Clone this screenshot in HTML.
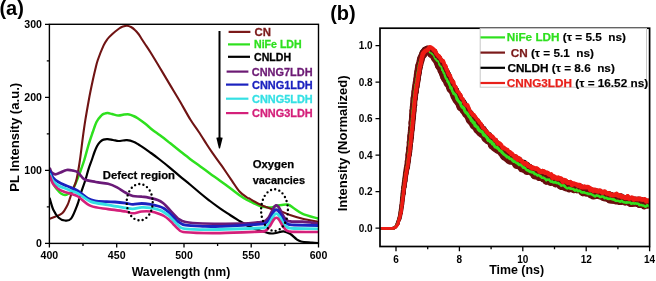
<!DOCTYPE html>
<html><head><meta charset="utf-8"><style>
html,body{margin:0;padding:0;background:#fff;width:656px;height:281px;overflow:hidden}
svg{display:block;will-change:transform}
text{font-family:"Liberation Sans",sans-serif;font-weight:bold}
.tk{font-size:10.6px}
.tkb{font-size:10px}
</style></head><body>
<svg width="656" height="281" viewBox="0 0 656 281">
<defs><clipPath id="ca"><rect x="49.4" y="24.3" width="269.1" height="219.1"/></clipPath><clipPath id="cb"><rect x="380" y="28.2" width="269.6" height="218.3"/></clipPath></defs>
<g clip-path="url(#ca)" fill="none" stroke-linejoin="round" stroke-linecap="round">
<path d="M49.7,176.0 C50.4,177.5 52.6,182.6 54.0,185.0 C55.4,187.4 56.8,189.1 58.0,190.5 C59.2,191.9 59.8,192.8 61.0,193.5 C62.2,194.2 63.8,194.9 65.0,195.0 C66.2,195.1 66.9,194.6 68.0,194.0 C69.1,193.4 70.5,192.7 71.5,191.5 C72.5,190.3 73.1,188.9 74.0,187.0 C74.9,185.1 75.9,182.7 77.0,180.0 C78.1,177.3 79.3,174.3 80.5,171.0 C81.7,167.7 83.0,164.3 84.3,160.0 C85.6,155.7 87.1,149.7 88.5,145.0 C89.9,140.3 91.5,135.8 92.8,132.0 C94.1,128.2 95.1,124.8 96.5,122.0 C97.9,119.2 100.1,116.9 101.4,115.5 C102.7,114.1 103.4,114.0 104.5,113.6 C105.6,113.2 106.5,113.0 107.8,113.1 C109.0,113.2 110.2,113.6 112.0,114.0 C113.8,114.4 116.5,115.5 118.5,115.6 C120.5,115.7 122.2,114.8 124.0,114.6 C125.8,114.4 127.5,114.2 129.1,114.4 C130.7,114.6 132.1,115.4 133.5,116.0 C134.9,116.6 135.8,117.0 137.7,118.2 C139.6,119.5 142.5,121.5 145.0,123.5 C147.5,125.5 150.1,127.9 152.6,129.9 C155.1,131.9 157.1,133.1 160.0,135.3 C162.9,137.5 166.7,140.5 170.0,143.1 C173.3,145.7 176.6,148.4 179.9,151.0 C183.2,153.6 186.7,156.4 190.0,158.9 C193.3,161.4 196.7,163.8 200.0,166.2 C203.3,168.6 206.6,171.1 209.9,173.5 C213.2,175.9 216.3,178.0 220.0,180.7 C223.7,183.4 228.8,187.2 232.0,189.6 C235.2,192.0 237.0,193.5 239.5,195.2 C242.0,196.9 245.2,199.0 247.0,200.0 C248.8,201.0 248.8,200.7 250.0,201.3 C251.2,201.9 252.6,202.7 254.4,203.5 C256.2,204.3 258.8,205.7 260.7,206.3 C262.6,206.9 264.2,207.0 266.0,207.2 C267.8,207.4 269.0,207.7 271.2,207.4 C273.4,207.1 276.4,205.8 279.2,205.3 C282.0,204.8 285.3,204.1 287.8,204.6 C290.3,205.1 291.7,207.0 294.2,208.5 C296.7,210.0 298.7,212.1 302.7,213.8 C306.7,215.5 315.4,217.7 318.0,218.5" stroke="#2ee01e" stroke-width="2.5"/>
<path d="M49.7,218.7 C50.6,218.4 53.0,217.7 55.1,216.8 C57.2,215.9 60.1,215.3 62.2,213.3 C64.3,211.3 66.2,207.6 67.5,205.0 C68.8,202.4 69.2,200.3 70.1,197.8 C71.0,195.3 71.8,192.8 72.8,189.8 C73.8,186.8 75.2,184.8 76.4,180.0 C77.6,175.2 78.8,167.7 79.8,161.0 C80.8,154.3 81.6,146.9 82.5,140.0 C83.4,133.1 84.3,126.5 85.4,119.7 C86.5,112.9 87.8,105.7 89.0,99.0 C90.2,92.3 91.8,84.9 92.9,79.8 C94.0,74.7 94.7,71.8 95.5,68.5 C96.3,65.2 96.5,63.8 97.8,60.0 C99.1,56.2 101.9,49.1 103.5,45.6 C105.1,42.1 106.1,40.9 107.5,39.0 C108.9,37.1 110.1,36.0 112.1,34.2 C114.0,32.5 117.4,29.8 119.2,28.5 C121.0,27.2 121.7,27.1 123.0,26.6 C124.3,26.1 125.7,25.6 127.0,25.7 C128.3,25.8 129.7,26.3 131.0,27.0 C132.3,27.7 133.7,28.8 134.9,30.0 C136.2,31.2 137.4,32.6 138.5,34.0 C139.6,35.4 140.3,36.8 141.4,38.5 C142.5,40.2 143.5,41.7 145.0,44.0 C146.5,46.3 148.1,48.5 150.6,52.5 C153.1,56.5 156.9,62.8 160.0,68.0 C163.1,73.2 166.0,78.0 169.3,83.6 C172.6,89.2 176.5,95.5 180.0,101.5 C183.5,107.5 187.4,114.8 190.5,119.8 C193.6,124.8 195.8,127.5 198.5,131.5 C201.2,135.5 204.2,140.4 206.5,144.0 C208.8,147.6 210.0,149.4 212.6,153.1 C215.2,156.8 218.8,161.6 222.0,166.2 C225.2,170.8 229.1,176.6 232.0,180.8 C234.9,185.0 237.0,188.7 239.5,191.5 C242.0,194.3 245.2,196.3 247.0,197.5 C248.8,198.7 248.8,198.1 250.0,198.8 C251.2,199.5 252.6,200.5 254.4,201.5 C256.2,202.5 258.8,203.9 260.7,204.8 C262.6,205.7 264.2,206.3 266.0,207.0 C267.8,207.7 269.1,208.2 271.4,208.9 C273.7,209.6 276.9,210.0 280.0,211.0 C283.1,212.0 286.2,213.7 290.0,215.0 C293.8,216.3 297.7,217.6 302.7,218.8 C307.7,220.0 317.1,221.6 320.0,222.2" stroke="#701414" stroke-width="2.1"/>
<path d="M49.7,198.4 C50.3,200.3 51.8,206.5 53.3,209.7 C54.8,212.9 56.8,215.9 58.7,217.7 C60.6,219.5 62.8,220.3 64.9,220.5 C67.0,220.7 69.0,221.2 71.1,218.6 C73.2,216.0 75.7,209.2 77.3,205.0 C78.9,200.8 79.4,197.6 80.8,193.4 C82.2,189.2 84.1,184.1 85.4,180.0 C86.7,175.9 87.5,172.1 88.6,168.8 C89.7,165.5 90.8,162.8 91.8,160.0 C92.8,157.2 93.6,154.3 94.5,152.0 C95.4,149.7 96.2,147.7 97.1,146.0 C98.0,144.3 98.9,143.1 100.0,142.0 C101.1,140.9 102.2,140.1 103.5,139.6 C104.8,139.1 106.2,139.0 107.8,139.1 C109.4,139.2 111.2,139.7 113.0,140.0 C114.8,140.3 116.8,140.9 118.5,141.0 C120.2,141.1 121.6,140.6 123.0,140.5 C124.4,140.4 125.3,140.0 127.0,140.2 C128.7,140.4 131.5,141.0 133.4,141.7 C135.3,142.4 136.7,143.4 138.5,144.5 C140.3,145.6 142.0,146.7 144.1,148.1 C146.2,149.5 148.5,151.2 151.0,153.0 C153.5,154.8 155.8,156.5 159.0,159.0 C162.2,161.5 166.5,164.9 170.0,167.8 C173.5,170.7 176.7,173.5 180.0,176.3 C183.3,179.1 186.7,181.7 190.0,184.5 C193.3,187.3 196.7,190.2 200.0,193.0 C203.3,195.8 206.7,198.4 210.0,201.0 C213.3,203.6 216.7,206.0 220.0,208.3 C223.3,210.6 226.7,212.8 230.0,215.0 C233.3,217.2 236.7,219.2 240.0,221.2 C243.3,223.2 246.6,225.2 249.9,226.8 C253.2,228.4 256.5,229.4 259.9,230.5 C263.2,231.6 267.3,233.0 270.0,233.4 C272.7,233.8 273.8,233.3 276.0,233.0 C278.2,232.7 281.1,231.2 283.5,231.3 C285.9,231.4 287.9,232.5 290.1,233.8 C292.3,235.1 294.9,238.0 296.7,239.3 C298.5,240.6 298.5,240.9 301.1,241.5 C303.7,242.1 309.0,242.3 312.1,242.6 C315.2,242.9 318.7,243.0 320.0,243.1" stroke="#000000" stroke-width="2.2"/>
<path d="M49.9,168.7 C50.2,169.3 50.8,171.6 51.7,172.5 C52.6,173.4 54.0,174.3 55.5,174.3 C57.0,174.3 58.6,173.2 60.5,172.5 C62.4,171.8 64.6,170.3 66.7,170.0 C68.8,169.7 71.0,170.2 72.9,170.6 C74.8,171.0 76.1,171.1 78.0,172.5 C79.9,173.9 81.3,177.6 84.3,179.2 C87.2,180.8 91.7,181.2 95.7,182.0 C99.7,182.8 104.5,182.9 108.1,183.8 C111.6,184.7 114.1,185.9 117.0,187.4 C119.9,188.9 123.1,191.4 125.7,192.8 C128.3,194.2 130.1,195.3 132.8,196.0 C135.5,196.7 138.7,196.3 141.7,196.7 C144.7,197.0 147.9,197.5 150.6,198.1 C153.3,198.7 155.6,199.2 157.7,200.0 C159.8,200.8 161.3,201.7 163.0,203.0 C164.7,204.3 166.3,206.2 168.0,208.0 C169.7,209.8 171.3,211.8 173.0,213.5 C174.7,215.2 175.9,217.1 178.0,218.5 C180.1,219.9 181.5,221.2 185.6,222.0 C189.7,222.8 193.4,223.2 202.7,223.5 C212.0,223.8 231.8,223.9 241.4,223.7 C251.1,223.4 256.8,222.4 260.6,222.0 C264.4,221.6 263.1,221.7 264.0,221.4 C264.9,221.1 265.3,220.9 266.0,220.4 C266.7,219.9 267.3,219.2 268.0,218.4 C268.7,217.5 269.3,216.4 270.0,215.1 C270.7,213.9 271.3,212.4 272.0,211.1 C272.7,209.8 273.3,208.3 274.0,207.3 C274.7,206.4 275.3,205.6 276.0,205.4 C276.7,205.2 277.3,205.6 278.0,206.2 C278.7,206.9 279.3,208.2 280.0,209.4 C280.7,210.6 281.3,212.2 282.0,213.4 C282.7,214.7 283.3,216.1 284.0,217.1 C284.7,218.1 285.3,218.9 286.0,219.5 C286.7,220.2 287.3,220.5 288.0,220.9 C288.7,221.2 289.3,221.3 290.0,221.4 C290.7,221.5 291.3,221.6 292.0,221.6 C292.7,221.7 292.2,221.7 294.0,221.7 C295.8,221.7 298.7,221.4 302.7,221.7 C306.7,222.0 315.4,223.2 318.0,223.5" stroke="#6a1a78" stroke-width="2.7"/>
<path d="M49.9,171.2 C50.4,172.2 51.6,175.7 53.0,177.5 C54.4,179.3 56.1,180.6 58.0,181.8 C59.9,183.0 62.1,184.0 64.2,184.9 C66.3,185.8 68.1,186.4 70.4,187.4 C72.7,188.4 75.1,189.2 78.0,191.0 C80.9,192.8 85.2,196.9 88.0,198.5 C90.8,200.1 91.9,200.3 95.0,200.8 C98.1,201.3 103.4,201.5 106.7,201.7 C110.0,201.9 111.8,201.8 115.0,202.0 C118.2,202.2 122.7,202.7 125.7,203.1 C128.7,203.5 130.1,204.3 132.8,204.4 C135.5,204.5 138.7,203.5 141.7,203.5 C144.7,203.5 147.6,203.9 150.6,204.4 C153.6,204.9 157.3,205.8 159.5,206.5 C161.7,207.2 162.5,207.6 164.0,208.5 C165.5,209.4 167.0,210.7 168.5,212.0 C170.0,213.3 171.4,214.9 173.0,216.5 C174.6,218.1 175.9,220.1 178.0,221.5 C180.1,222.9 181.5,224.4 185.6,225.2 C189.7,226.0 197.0,226.1 202.7,226.3 C208.4,226.5 210.3,226.7 220.0,226.3 C229.7,226.0 253.3,224.6 260.6,224.2 C267.9,223.8 263.1,223.9 264.0,223.7 C264.9,223.5 265.3,223.3 266.0,222.9 C266.7,222.4 267.3,221.9 268.0,221.1 C268.7,220.3 269.3,219.3 270.0,218.2 C270.7,217.2 271.3,215.8 272.0,214.6 C272.7,213.5 273.3,212.1 274.0,211.3 C274.7,210.5 275.3,209.8 276.0,209.6 C276.7,209.5 277.3,209.8 278.0,210.4 C278.7,211.1 279.3,212.2 280.0,213.4 C280.7,214.5 281.3,215.9 282.0,217.1 C282.7,218.3 283.3,219.6 284.0,220.5 C284.7,221.4 285.3,222.2 286.0,222.8 C286.7,223.4 287.3,223.8 288.0,224.1 C288.7,224.4 289.3,224.5 290.0,224.7 C290.7,224.8 291.3,224.9 292.0,224.9 C292.7,225.0 289.7,224.9 294.0,225.0 C298.3,225.1 314.0,225.4 318.0,225.5" stroke="#1b22bf" stroke-width="2.8"/>
<path d="M49.9,174.3 C50.4,175.5 51.6,179.3 53.0,181.2 C54.4,183.1 56.1,184.4 58.0,185.5 C59.9,186.6 62.1,187.2 64.2,188.0 C66.3,188.8 68.1,189.6 70.4,190.5 C72.7,191.4 74.6,191.7 78.0,193.5 C81.4,195.3 85.7,199.7 90.7,201.6 C95.7,203.5 102.2,203.8 108.0,204.8 C113.8,205.9 121.6,207.2 125.7,207.9 C129.8,208.6 130.1,208.9 132.8,208.8 C135.5,208.7 138.7,207.6 141.7,207.4 C144.7,207.2 147.6,207.5 150.6,207.9 C153.6,208.3 157.3,209.3 159.5,210.0 C161.7,210.7 162.5,211.3 164.0,212.2 C165.5,213.1 167.0,214.2 168.5,215.5 C170.0,216.8 171.4,218.4 173.0,220.0 C174.6,221.6 175.9,223.5 178.0,225.0 C180.1,226.5 178.6,228.2 185.6,228.9 C192.6,229.7 207.5,229.7 220.0,229.5 C232.5,229.3 253.3,228.3 260.6,228.0 C267.9,227.7 263.1,227.7 264.0,227.5 C264.9,227.3 265.3,227.1 266.0,226.7 C266.7,226.2 267.3,225.7 268.0,224.9 C268.7,224.2 269.3,223.2 270.0,222.1 C270.7,221.1 271.3,219.7 272.0,218.6 C272.7,217.4 273.3,216.1 274.0,215.3 C274.7,214.5 275.3,213.8 276.0,213.7 C276.7,213.5 277.3,213.9 278.0,214.5 C278.7,215.1 279.3,216.2 280.0,217.3 C280.7,218.4 281.3,219.8 282.0,220.9 C282.7,222.1 283.3,223.3 284.0,224.2 C284.7,225.1 285.3,225.8 286.0,226.4 C286.7,227.0 287.3,227.3 288.0,227.6 C288.7,227.9 289.3,228.1 290.0,228.2 C290.7,228.3 291.3,228.4 292.0,228.4 C292.7,228.5 289.7,228.4 294.0,228.5 C298.3,228.6 314.0,228.8 318.0,228.8" stroke="#35e0e4" stroke-width="2.8"/>
<path d="M49.9,176.2 C50.4,177.4 51.6,181.6 53.0,183.7 C54.4,185.8 56.1,187.3 58.0,188.7 C59.9,190.0 62.1,191.0 64.2,191.8 C66.3,192.6 68.1,192.8 70.4,193.6 C72.7,194.4 74.6,194.4 78.0,196.5 C81.4,198.6 85.7,203.8 90.7,205.9 C95.7,208.0 102.2,208.2 108.0,209.1 C113.8,210.0 121.6,210.8 125.7,211.5 C129.8,212.2 130.1,213.3 132.8,213.3 C135.5,213.3 138.7,211.8 141.7,211.5 C144.7,211.2 147.6,211.1 150.6,211.5 C153.6,211.9 157.3,213.2 159.5,214.0 C161.7,214.8 162.5,215.1 164.0,216.0 C165.5,216.9 167.0,217.9 168.5,219.2 C170.0,220.5 171.4,222.2 173.0,223.8 C174.6,225.4 175.9,227.4 178.0,228.8 C180.1,230.2 178.6,231.6 185.6,232.3 C192.6,233.0 207.5,233.2 220.0,233.1 C232.5,233.0 253.3,231.9 260.6,231.6 C267.9,231.3 263.1,231.3 264.0,231.1 C264.9,230.9 265.3,230.7 266.0,230.3 C266.7,229.9 267.3,229.4 268.0,228.6 C268.7,227.9 269.3,226.9 270.0,225.9 C270.7,224.9 271.3,223.6 272.0,222.5 C272.7,221.4 273.3,220.2 274.0,219.4 C274.7,218.6 275.3,217.9 276.0,217.8 C276.7,217.6 277.3,217.9 278.0,218.5 C278.7,219.1 279.3,220.2 280.0,221.2 C280.7,222.2 281.3,223.6 282.0,224.7 C282.7,225.8 283.3,227.0 284.0,227.8 C284.7,228.7 285.3,229.4 286.0,229.9 C286.7,230.5 287.3,230.8 288.0,231.1 C288.7,231.4 289.3,231.5 290.0,231.6 C290.7,231.7 291.3,231.8 292.0,231.8 C292.7,231.9 289.7,231.9 294.0,231.9 C298.3,231.9 314.0,232.0 318.0,232.0" stroke="#d4207a" stroke-width="2.6"/>
</g>
<ellipse cx="139.7" cy="202.2" rx="13" ry="18.2" fill="none" stroke="#000" stroke-width="2.4" stroke-dasharray="0 4.3" stroke-linecap="round"/>
<ellipse cx="274.5" cy="210.1" rx="13.4" ry="20.8" fill="none" stroke="#000" stroke-width="2.4" stroke-dasharray="0 4.3" stroke-linecap="round"/>
<rect x="49.4" y="24.3" width="269.1" height="219.1" fill="none" stroke="#000" stroke-width="1.4"/>
<text x="49.4" y="259" text-anchor="middle" class="tk">400</text>
<text x="116.7" y="259" text-anchor="middle" class="tk">450</text>
<text x="184.0" y="259" text-anchor="middle" class="tk">500</text>
<text x="251.2" y="259" text-anchor="middle" class="tk">550</text>
<text x="318.5" y="259" text-anchor="middle" class="tk">600</text>
<text x="42" y="247.1" text-anchor="end" class="tk">0</text>
<text x="42" y="174.1" text-anchor="end" class="tk">100</text>
<text x="42" y="101.0" text-anchor="end" class="tk">200</text>
<text x="42" y="28.0" text-anchor="end" class="tk">300</text>
<path d="M49.4,243.4 V247.5 M116.7,243.4 V247.5 M184.0,243.4 V247.5 M251.2,243.4 V247.5 M318.5,243.4 V247.5 M83.0,243.4 V246 M150.3,243.4 V246 M217.6,243.4 V246 M284.9,243.4 V246 M49.4,243.4 H45 M49.4,170.4 H45 M49.4,97.3 H45 M49.4,24.3 H45 M49.4,206.9 H46.8 M49.4,133.9 H46.8 M49.4,60.8 H46.8" stroke="#000" stroke-width="1.3" fill="none"/>
<path d="M219.5,31 V142" stroke="#000" stroke-width="2"/>
<path d="M216.3,137.8 Q219.5,136.5 222.7,137.8 L220.1,148.2 Q219.5,149 218.9,148.2 Z" fill="#000"/>
<path d="M228.6,31.9 H250.4" stroke="#7b1a1a" stroke-width="2.2"/>
<text x="254.6" y="35.8" style="fill:#7b1a1a;stroke:#7b1a1a;stroke-width:0.3px;font-size:11.40px">CN</text>
<path d="M228.0,44.4 H250.0" stroke="#2ee01e" stroke-width="2.2"/>
<text x="254.0" y="48.3" style="fill:#2ee01e;stroke:#2ee01e;stroke-width:0.3px;font-size:10.60px">NiFe LDH</text>
<path d="M228.0,56.8 H250.0" stroke="#000" stroke-width="2.2"/>
<text x="254.0" y="60.7" style="fill:#000;stroke:#000;stroke-width:0.3px;font-size:10.60px">CNLDH</text>
<path d="M226.6,71.6 H248.4" stroke="#6c1a74" stroke-width="2.2"/>
<text x="251.8" y="75.5" style="fill:#6c1a74;stroke:#6c1a74;stroke-width:0.3px;font-size:10.95px">CNNG7LDH</text>
<path d="M226.0,84.6 H248.4" stroke="#1b22bf" stroke-width="2.2"/>
<text x="252.0" y="88.5" style="fill:#1b22bf;stroke:#1b22bf;stroke-width:0.3px;font-size:10.95px">CNNG1LDH</text>
<path d="M226.0,98.7 H248.4" stroke="#35e0e4" stroke-width="2.2"/>
<text x="252.0" y="102.6" style="fill:#35e0e4;stroke:#35e0e4;stroke-width:0.3px;font-size:10.95px">CNNG5LDH</text>
<path d="M226.0,113.1 H248.4" stroke="#d4207a" stroke-width="2.2"/>
<text x="252.0" y="117.0" style="fill:#d4207a;stroke:#d4207a;stroke-width:0.3px;font-size:10.95px">CNNG3LDH</text>
<text x="102.8" y="179.3" style="font-size:11.3px;stroke:#000;stroke-width:0.25px">Defect region</text>
<text x="252.7" y="168" style="font-size:11.3px;stroke:#000;stroke-width:0.25px">Oxygen</text>
<text x="252.7" y="183.7" style="font-size:10.95px;stroke:#000;stroke-width:0.25px">vacancies</text>
<text x="181" y="276.3" text-anchor="middle" style="font-size:12.3px">Wavelength (nm)</text>
<text transform="translate(19.3,137.3) rotate(-90)" text-anchor="middle" style="font-size:13.1px">PL Intensity (a.u.)</text>
<text x="-0.6" y="15.2" style="font-size:20px">(a)</text>
<text x="330.2" y="19.7" style="font-size:20px">(b)</text>
<g clip-path="url(#cb)">
<g stroke="#1a0303" fill="none" stroke-linejoin="round" stroke-linecap="round"><path d="M380.0,228.4 L380.8,228.4 L381.6,228.4 L382.4,228.4 L383.2,228.3 L384.0,228.4 L384.8,228.4 L385.6,228.4 L386.4,228.4" stroke-width="2.6"/><path d="M386.4,228.4 L387.2,228.4 L388.0,228.4 L388.8,228.4 L389.6,228.4 L390.4,228.4 L391.2,228.4 L392.0,228.4 L392.8,228.3" stroke-width="2.6"/><path d="M392.8,228.3 L393.6,228.2 L394.3,227.8 L395.0,227.5 L395.6,226.8 L396.1,226.3 L396.6,226.1 L397.0,225.0 L397.4,223.9" stroke-width="2.9"/><path d="M397.4,223.9 L397.7,223.5 L398.0,223.6 L398.2,221.9 L398.5,220.6 L398.7,220.5 L399.0,219.8 L399.2,219.0 L399.4,218.3" stroke-width="3.4"/><path d="M399.4,218.3 L399.7,217.6 L399.9,216.8 L400.1,215.9 L400.2,214.8 L400.4,214.0 L400.6,213.3 L400.7,212.6 L400.9,212.6" stroke-width="3.8"/><path d="M400.9,212.6 L401.0,211.9 L401.1,211.2 L401.2,210.0 L401.3,208.3 L401.4,208.2 L401.5,207.7 L401.6,206.8 L401.8,206.1" stroke-width="4.0"/><path d="M401.8,206.1 L401.9,205.6 L402.0,204.6 L402.1,203.4 L402.2,201.8 L402.3,201.2 L402.4,200.4 L402.4,199.4 L402.5,198.6" stroke-width="4.1"/><path d="M402.5,198.6 L402.6,198.8 L402.7,198.4 L402.8,197.2 L402.9,195.6 L403.0,195.2 L403.1,194.4 L403.2,194.1 L403.3,193.5" stroke-width="4.3"/><path d="M403.3,193.5 L403.4,192.5 L403.5,191.2 L403.6,190.6 L403.7,190.2 L403.8,188.7 L403.9,187.8 L404.0,187.6 L404.1,187.0" stroke-width="4.4"/><path d="M404.1,187.0 L404.2,186.3 L404.3,185.4 L404.4,184.1 L404.5,182.7 L404.6,182.7 L404.7,182.1 L404.8,181.5 L404.9,180.9" stroke-width="4.5"/><path d="M404.9,180.9 L405.0,180.2 L405.1,179.1 L405.3,177.7 L405.4,176.7 L405.5,176.2 L405.6,176.2 L405.7,174.5 L405.8,173.0" stroke-width="4.7"/><path d="M405.8,173.0 L406.0,172.8 L406.1,172.5 L406.2,171.8 L406.4,171.6 L406.5,170.2 L406.7,168.9 L406.8,168.3 L407.0,167.5" stroke-width="4.8"/><path d="M407.0,167.5 L407.1,166.1 L407.3,165.6 L407.4,164.5 L407.5,163.9 L407.6,163.3 L407.8,163.1 L407.9,161.8 L408.0,160.8" stroke-width="5.0"/><path d="M408.0,160.8 L408.1,159.9 L408.2,159.4 L408.3,158.9 L408.4,158.2 L408.5,157.1 L408.6,155.7 L408.7,155.6 L408.8,155.1" stroke-width="5.1"/><path d="M408.8,155.1 L408.9,154.1 L409.0,152.8 L409.1,152.2 L409.2,151.7 L409.2,151.0 L409.3,150.3 L409.4,149.2 L409.5,147.7" stroke-width="5.2"/><path d="M409.5,147.7 L409.6,147.1 L409.7,147.0 L409.8,146.3 L409.9,145.9 L410.0,144.7 L410.0,143.7 L410.1,142.6 L410.2,141.5" stroke-width="5.3"/><path d="M410.2,141.5 L410.3,141.3 L410.4,140.7 L410.5,140.3 L410.6,139.1 L410.6,138.6 L410.7,137.3 L410.8,137.1 L410.9,136.4" stroke-width="5.4"/><path d="M410.9,136.4 L411.0,135.6 L411.1,134.2 L411.1,134.2 L411.2,133.6 L411.3,132.1 L411.4,130.7 L411.5,129.5 L411.5,128.7" stroke-width="5.5"/><path d="M411.5,128.7 L411.6,128.5 L411.7,128.5 L411.8,127.5 L411.9,126.4 L411.9,125.3 L412.0,124.3 L412.1,124.3 L412.1,123.8" stroke-width="5.5"/><path d="M412.1,123.8 L412.2,122.4 L412.3,121.1 L412.4,120.6 L412.4,120.6 L412.5,119.4 L412.6,118.6 L412.6,118.3 L412.7,117.3" stroke-width="5.6"/><path d="M412.7,117.3 L412.8,116.7 L412.8,115.2 L412.9,114.7 L413.0,113.9 L413.0,113.1 L413.1,111.6 L413.2,110.8 L413.2,110.0" stroke-width="5.7"/><path d="M413.2,110.0 L413.3,110.0 L413.4,109.2 L413.5,108.4 L413.5,107.3 L413.6,106.5 L413.7,106.4 L413.7,105.3 L413.8,104.5" stroke-width="5.8"/><path d="M413.8,104.5 L413.9,103.5 L414.0,102.7 L414.1,101.4 L414.1,100.2 L414.2,100.0 L414.3,99.7 L414.4,98.8 L414.5,97.5" stroke-width="5.9"/><path d="M414.5,97.5 L414.6,96.9 L414.7,96.5 L414.8,95.2 L414.9,94.2 L415.0,93.3 L415.1,92.7 L415.2,92.5 L415.3,92.2" stroke-width="6.0"/><path d="M415.3,92.2 L415.4,91.2 L415.6,89.7 L415.7,88.3 L415.8,87.1 L415.9,86.9 L416.0,86.6 L416.2,85.8 L416.3,84.6" stroke-width="6.0"/><path d="M416.3,84.6 L416.4,84.3 L416.5,83.3 L416.7,83.1 L416.8,82.4 L416.9,81.3 L417.0,79.9 L417.2,79.4 L417.3,79.2" stroke-width="6.0"/><path d="M417.3,79.2 L417.4,78.5 L417.5,77.3 L417.7,76.0 L417.8,74.4 L417.9,74.7 L418.0,75.0 L418.2,73.9 L418.3,72.8" stroke-width="6.0"/><path d="M418.3,72.8 L418.4,72.5 L418.6,71.9 L418.7,70.2 L418.9,68.3 L419.0,67.5 L419.2,66.7 L419.3,66.9 L419.5,66.8" stroke-width="6.1"/><path d="M419.5,66.8 L419.6,66.2 L419.8,64.7 L420.0,63.8 L420.2,62.3 L420.3,62.2 L420.5,62.0 L420.7,61.2 L420.9,60.3" stroke-width="6.1"/><path d="M420.9,60.3 L421.1,59.4 L421.3,59.0 L421.5,58.1 L421.7,57.3 L422.0,55.9 L422.3,54.5 L422.6,53.5 L422.9,52.6" stroke-width="6.1"/><path d="M422.9,52.6 L423.3,52.4 L423.7,51.4 L424.1,51.1 L424.7,50.0 L425.3,49.7 L426.0,49.6 L426.8,50.0 L427.6,50.2" stroke-width="6.2"/><path d="M427.6,50.2 L428.5,49.6 L429.4,49.5 L430.2,49.9 L431.0,50.4 L431.8,51.2 L432.5,51.6 L433.1,51.5 L433.6,51.7" stroke-width="6.3"/><path d="M433.6,51.7 L434.2,52.7 L434.7,53.0 L435.2,54.4 L435.6,55.3 L436.1,56.2 L436.6,57.6 L437.1,57.6 L437.6,57.3" stroke-width="6.3"/><path d="M437.6,57.3 L438.2,57.7 L438.7,58.0 L439.2,59.4 L439.7,60.7 L440.2,60.8 L440.6,60.9 L441.1,62.0 L441.5,63.5" stroke-width="6.4"/><path d="M441.5,63.5 L441.9,63.8 L442.2,63.9 L442.6,65.5 L443.0,66.2 L443.3,67.2 L443.7,67.5 L444.0,68.4 L444.4,68.6" stroke-width="6.5"/><path d="M444.4,68.6 L444.7,69.2 L445.1,69.1 L445.4,69.7 L445.7,70.7 L446.1,71.2 L446.4,72.3 L446.8,72.9 L447.1,73.2" stroke-width="6.5"/><path d="M447.1,73.2 L447.4,74.0 L447.8,74.7 L448.1,75.6 L448.5,76.6 L448.8,77.6 L449.1,78.9 L449.5,79.9 L449.8,80.5" stroke-width="6.6"/><path d="M449.8,80.5 L450.2,80.1 L450.5,80.3 L450.9,81.0 L451.3,82.4 L451.6,83.9 L452.0,85.5 L452.4,85.6 L452.7,86.2" stroke-width="6.6"/><path d="M452.7,86.2 L453.1,86.2 L453.5,86.9 L453.9,87.5 L454.3,88.0 L454.6,89.0 L455.0,90.9 L455.4,90.4 L455.8,90.5" stroke-width="6.6"/><path d="M455.8,90.5 L456.2,91.8 L456.6,92.9 L457.0,93.8 L457.4,95.4 L457.8,95.5 L458.2,96.4 L458.6,96.5 L459.0,96.1" stroke-width="6.6"/><path d="M459.0,96.1 L459.4,97.4 L459.9,98.4 L460.3,99.2 L460.7,100.0 L461.1,100.7 L461.5,101.9 L462.0,102.0 L462.4,101.5" stroke-width="6.6"/><path d="M462.4,101.5 L462.8,102.3 L463.2,102.3 L463.7,103.6 L464.1,103.8 L464.5,105.1 L465.0,106.2 L465.4,106.8 L465.9,108.2" stroke-width="6.6"/><path d="M465.9,108.2 L466.3,108.4 L466.8,109.2 L467.2,109.5 L467.7,109.6 L468.1,111.1 L468.6,112.4 L469.1,112.9 L469.5,112.9" stroke-width="6.6"/><path d="M469.5,112.9 L470.0,113.4 L470.5,113.6 L470.9,115.0 L471.4,115.3 L471.9,116.8 L472.3,117.1 L472.8,117.9 L473.3,118.1" stroke-width="6.6"/><path d="M473.3,118.1 L473.8,118.8 L474.3,118.5 L474.8,119.2 L475.3,119.8 L475.8,120.3 L476.2,121.5 L476.7,122.2 L477.3,123.5" stroke-width="6.6"/><path d="M477.3,123.5 L477.8,123.6 L478.3,123.4 L478.8,125.1 L479.3,125.7 L479.8,126.1 L480.3,125.8 L480.8,126.5 L481.4,127.5" stroke-width="6.6"/><path d="M481.4,127.5 L481.9,128.7 L482.4,130.1 L482.9,129.5 L483.5,129.2 L484.0,131.0 L484.6,132.0 L485.1,132.4 L485.6,132.6" stroke-width="6.6"/><path d="M485.6,132.6 L486.2,133.8 L486.7,134.9 L487.3,134.4 L487.9,134.6 L488.4,134.9 L489.0,135.1 L489.5,136.3 L490.1,137.8" stroke-width="6.6"/><path d="M490.1,137.8 L490.7,137.9 L491.2,139.1 L491.8,139.9 L492.3,140.2 L492.9,140.7 L493.4,141.4 L494.0,141.0 L494.5,141.0" stroke-width="6.6"/><path d="M494.5,141.0 L495.1,141.6 L495.6,142.2 L496.2,143.1 L496.7,144.2 L497.3,145.3 L497.9,146.0 L498.4,146.7 L499.0,147.2" stroke-width="6.6"/><path d="M499.0,147.2 L499.6,147.6 L500.2,147.4 L500.8,148.3 L501.4,149.4 L502.0,149.3 L502.6,149.7 L503.2,149.8 L503.8,150.2" stroke-width="6.5"/><path d="M503.8,150.2 L504.5,151.0 L505.1,151.3 L505.7,152.1 L506.3,152.5 L507.0,153.1 L507.6,153.1 L508.3,154.2 L508.9,155.4" stroke-width="6.5"/><path d="M508.9,155.4 L509.5,155.7 L510.2,156.2 L510.8,155.9 L511.5,155.8 L512.1,157.2 L512.8,157.7 L513.5,157.6 L514.1,157.5" stroke-width="6.5"/><path d="M514.1,157.5 L514.8,157.6 L515.4,157.7 L516.1,158.7 L516.8,158.7 L517.4,159.8 L518.1,160.5 L518.8,160.7 L519.4,160.4" stroke-width="6.5"/><path d="M519.4,160.4 L520.1,162.0 L520.8,162.8 L521.5,163.8 L522.2,163.4 L522.8,163.1 L523.5,163.1 L524.2,163.0 L524.9,164.2" stroke-width="6.5"/><path d="M524.9,164.2 L525.6,164.8 L526.3,165.1 L527.0,165.1 L527.6,165.7 L528.3,166.6 L529.0,167.4 L529.7,167.9 L530.4,167.7" stroke-width="6.5"/><path d="M530.4,167.7 L531.1,168.5 L531.8,169.7 L532.5,169.4 L533.2,169.6 L533.9,170.1 L534.7,170.8 L535.4,170.9 L536.1,171.8" stroke-width="6.5"/><path d="M536.1,171.8 L536.8,171.7 L537.5,172.0 L538.2,171.9 L538.9,171.7 L539.7,172.6 L540.4,173.0 L541.1,173.7 L541.8,174.1" stroke-width="6.5"/><path d="M541.8,174.1 L542.5,174.1 L543.3,173.8 L544.0,174.4 L544.7,174.7 L545.5,175.3 L546.2,175.4 L546.9,175.2 L547.6,174.8" stroke-width="6.5"/><path d="M547.6,174.8 L548.4,175.9 L549.1,176.7 L549.8,177.0 L550.6,177.5 L551.3,177.8 L552.0,178.9 L552.8,178.5 L553.5,178.1" stroke-width="6.5"/><path d="M553.5,178.1 L554.3,179.3 L555.0,180.0 L555.7,179.7 L556.5,180.1 L557.2,179.7 L558.0,179.5 L558.7,180.4 L559.5,181.6" stroke-width="6.5"/><path d="M559.5,181.6 L560.2,181.4 L561.0,181.8 L561.7,181.2 L562.5,181.0 L563.2,181.6 L564.0,182.5 L564.7,183.1 L565.5,183.1" stroke-width="6.5"/><path d="M565.5,183.1 L566.2,183.9 L567.0,184.7 L567.7,183.6 L568.5,183.3 L569.2,184.1 L570.0,185.6 L570.8,185.3 L571.5,184.6" stroke-width="6.5"/><path d="M571.5,184.6 L572.3,185.3 L573.0,186.4 L573.8,186.6 L574.6,186.1 L575.3,186.9 L576.1,186.9 L576.8,187.0 L577.6,186.8" stroke-width="6.5"/><path d="M577.6,186.8 L578.4,187.5 L579.1,187.8 L579.9,187.7 L580.7,187.2 L581.4,188.1 L582.2,188.3 L583.0,188.8 L583.7,189.2" stroke-width="6.5"/><path d="M583.7,189.2 L584.5,189.5 L585.3,189.6 L586.0,190.1 L586.8,190.2 L587.6,190.3 L588.3,190.5 L589.1,190.6 L589.9,190.9" stroke-width="6.5"/><path d="M589.9,190.9 L590.7,190.8 L591.4,190.7 L592.2,190.8 L593.0,191.5 L593.7,191.5 L594.5,191.5 L595.3,191.4 L596.1,191.7" stroke-width="6.5"/><path d="M596.1,191.7 L596.8,191.8 L597.6,192.4 L598.4,192.6 L599.2,192.5 L599.9,192.7 L600.7,192.5 L601.5,193.3 L602.3,193.6" stroke-width="6.5"/><path d="M602.3,193.6 L603.0,194.0 L603.8,193.8 L604.6,194.5 L605.4,194.9 L606.2,195.0 L606.9,195.3 L607.7,194.9 L608.5,194.4" stroke-width="6.4"/><path d="M608.5,194.4 L609.3,194.5 L610.1,195.2 L610.8,195.2 L611.6,195.3 L612.4,195.9 L613.2,196.6 L614.0,197.0 L614.7,197.2" stroke-width="6.4"/><path d="M614.7,197.2 L615.5,197.3 L616.3,197.7 L617.1,197.0 L617.9,197.5 L618.7,196.7 L619.4,196.6 L620.2,196.8 L621.0,196.8" stroke-width="6.4"/><path d="M621.0,196.8 L621.8,197.9 L622.6,198.2 L623.4,198.2 L624.1,197.9 L624.9,198.7 L625.7,199.1 L626.5,198.9 L627.3,198.7" stroke-width="6.4"/><path d="M627.3,198.7 L628.1,199.3 L628.9,199.4 L629.6,199.6 L630.4,199.3 L631.2,199.7 L632.0,199.8 L632.8,200.2 L633.6,199.9" stroke-width="6.4"/><path d="M633.6,199.9 L634.4,199.9 L635.1,200.0 L635.9,200.0 L636.7,200.1 L637.5,200.3 L638.3,199.7 L639.1,200.4 L639.9,200.7" stroke-width="6.4"/><path d="M639.9,200.7 L640.7,200.8 L641.4,200.3 L642.2,201.2 L643.0,202.7 L643.8,201.4 L644.6,201.4 L645.4,201.9 L646.2,202.5" stroke-width="6.4"/><path d="M646.2,202.5 L647.0,203.1 L647.8,202.7 L648.5,202.9 L649.3,202.5 L650.1,202.9" stroke-width="6.4"/></g>
<g stroke="#6a0f0f" fill="none" stroke-linejoin="round" stroke-linecap="round"><path d="M380.0,228.4 L380.8,228.4 L381.6,228.3 L382.4,228.4 L383.2,228.4 L384.0,228.4 L384.8,228.4 L385.6,228.5 L386.4,228.4" stroke-width="2.8"/><path d="M386.4,228.4 L387.2,228.4 L388.0,228.4 L388.8,228.4 L389.6,228.4 L390.4,228.4 L391.2,228.4 L392.0,228.4 L392.8,228.3" stroke-width="2.8"/><path d="M392.8,228.3 L393.6,228.3 L394.3,227.6 L395.0,227.3 L395.6,226.9 L396.1,226.3 L396.6,225.6 L397.0,224.6 L397.3,223.6" stroke-width="3.1"/><path d="M397.3,223.6 L397.7,223.1 L397.9,222.6 L398.2,221.6 L398.4,220.8 L398.7,220.3 L398.9,220.5 L399.1,219.4 L399.4,218.8" stroke-width="3.7"/><path d="M399.4,218.8 L399.6,217.7 L399.8,216.6 L400.0,216.1 L400.2,215.6 L400.3,214.2 L400.5,212.6 L400.6,212.5 L400.8,212.1" stroke-width="4.2"/><path d="M400.8,212.1 L400.9,210.7 L401.0,209.9 L401.1,209.1 L401.2,208.8 L401.4,207.6 L401.5,206.4 L401.6,206.0 L401.7,205.2" stroke-width="4.5"/><path d="M401.7,205.2 L401.8,204.8 L401.9,204.5 L402.0,202.8 L402.1,202.0 L402.2,201.4 L402.3,200.0 L402.3,199.4 L402.4,198.8" stroke-width="4.7"/><path d="M402.4,198.8 L402.5,198.2 L402.6,197.4 L402.7,196.6 L402.8,196.2 L402.9,194.8 L403.0,194.2 L403.1,193.6 L403.2,193.3" stroke-width="4.9"/><path d="M403.2,193.3 L403.3,192.4 L403.3,191.1 L403.4,190.8 L403.5,190.0 L403.6,188.8 L403.7,187.8 L403.8,187.3 L403.9,187.0" stroke-width="5.1"/><path d="M403.9,187.0 L404.0,186.3 L404.2,185.3 L404.3,183.9 L404.4,182.6 L404.5,182.4 L404.6,182.5 L404.7,181.4 L404.8,180.9" stroke-width="5.3"/><path d="M404.8,180.9 L404.9,180.0 L405.0,178.4 L405.1,178.1 L405.2,178.0 L405.4,176.4 L405.5,175.3 L405.6,174.7 L405.7,173.9" stroke-width="5.4"/><path d="M405.7,173.9 L405.8,173.0 L406.0,172.1 L406.1,171.7 L406.2,170.3 L406.4,169.9 L406.5,169.6 L406.7,168.5 L406.8,167.7" stroke-width="5.6"/><path d="M406.8,167.7 L407.0,167.3 L407.1,166.9 L407.2,165.6 L407.4,164.6 L407.5,163.5 L407.6,162.3 L407.7,161.6 L407.8,161.2" stroke-width="5.9"/><path d="M407.8,161.2 L407.9,160.4 L408.0,160.2 L408.1,159.3 L408.2,157.9 L408.3,156.7 L408.4,155.7 L408.5,154.9 L408.6,154.7" stroke-width="6.0"/><path d="M408.6,154.7 L408.7,153.4 L408.8,152.7 L408.9,152.7 L409.0,153.0 L409.1,151.9 L409.2,151.4 L409.3,150.2 L409.3,148.9" stroke-width="6.2"/><path d="M409.3,148.9 L409.4,148.4 L409.5,147.4 L409.6,146.3 L409.7,146.2 L409.8,144.6 L409.9,143.3 L409.9,142.3 L410.0,142.1" stroke-width="6.3"/><path d="M410.0,142.1 L410.1,141.3 L410.2,140.7 L410.3,140.0 L410.4,138.8 L410.5,137.7 L410.5,136.2 L410.6,136.7 L410.7,137.0" stroke-width="6.5"/><path d="M410.7,137.0 L410.8,135.4 L410.9,134.3 L410.9,133.5 L411.0,132.5 L411.1,131.7 L411.2,130.7 L411.3,129.7 L411.3,129.1" stroke-width="6.6"/><path d="M411.3,129.1 L411.4,128.0 L411.5,127.6 L411.6,127.3 L411.7,127.3 L411.7,126.2 L411.8,125.3 L411.9,123.8 L411.9,122.8" stroke-width="6.7"/><path d="M411.9,122.8 L412.0,121.6 L412.1,120.8 L412.2,120.5 L412.2,120.8 L412.3,119.3 L412.4,118.1 L412.4,117.0 L412.5,117.2" stroke-width="6.8"/><path d="M412.5,117.2 L412.6,115.9 L412.6,113.9 L412.7,113.7 L412.8,113.8 L412.8,112.9 L412.9,111.7 L413.0,111.0 L413.0,110.7" stroke-width="7.0"/><path d="M413.0,110.7 L413.1,109.5 L413.2,108.9 L413.2,107.8 L413.3,106.6 L413.4,106.6 L413.5,106.0 L413.5,105.3 L413.6,105.2" stroke-width="7.0"/><path d="M413.6,105.2 L413.7,103.4 L413.8,101.3 L413.8,101.0 L413.9,100.5 L414.0,99.4 L414.1,98.3 L414.2,98.3 L414.3,98.3" stroke-width="7.1"/><path d="M414.3,98.3 L414.4,97.5 L414.5,96.1 L414.6,95.4 L414.7,93.8 L414.8,93.4 L414.9,92.6 L415.0,91.8 L415.1,91.7" stroke-width="7.1"/><path d="M415.1,91.7 L415.2,90.7 L415.3,90.1 L415.4,88.6 L415.6,87.2 L415.7,87.2 L415.8,87.6 L415.9,86.8 L416.0,85.9" stroke-width="7.2"/><path d="M416.0,85.9 L416.2,84.0 L416.3,82.8 L416.4,82.3 L416.5,82.8 L416.7,81.6 L416.8,81.0 L416.9,79.8 L417.0,79.5" stroke-width="7.3"/><path d="M417.0,79.5 L417.1,77.9 L417.3,77.4 L417.4,75.9 L417.5,74.6 L417.6,74.7 L417.8,75.0 L417.9,73.6 L418.0,72.3" stroke-width="7.4"/><path d="M418.0,72.3 L418.2,71.3 L418.3,70.5 L418.4,69.6 L418.6,68.3 L418.7,68.8 L418.9,68.3 L419.0,67.0 L419.2,65.5" stroke-width="7.5"/><path d="M419.2,65.5 L419.4,65.2 L419.5,64.8 L419.7,64.2 L419.9,63.1 L420.1,62.3 L420.3,62.1 L420.5,60.9 L420.7,59.9" stroke-width="7.6"/><path d="M420.7,59.9 L421.0,58.6 L421.2,57.9 L421.5,57.2 L421.8,56.6 L422.1,56.2 L422.5,55.5 L422.8,55.0 L423.2,54.3" stroke-width="7.7"/><path d="M423.2,54.3 L423.7,53.8 L424.1,53.0 L424.6,52.0 L425.2,51.1 L425.8,50.3 L426.4,50.3 L427.1,49.8 L427.7,49.7" stroke-width="8.0"/><path d="M427.7,49.7 L428.3,50.6 L428.9,50.5 L429.5,50.7 L430.0,50.9 L430.4,52.5 L430.9,53.3 L431.3,53.2 L431.8,53.9" stroke-width="8.3"/><path d="M431.8,53.9 L432.3,53.8 L432.7,54.3 L433.2,54.6 L433.7,55.4 L434.2,56.1 L434.7,57.1 L435.2,57.6 L435.7,58.4" stroke-width="8.6"/><path d="M435.7,58.4 L436.2,58.9 L436.7,59.8 L437.2,60.3 L437.7,61.2 L438.1,62.6 L438.5,62.6 L438.9,64.3 L439.3,65.3" stroke-width="8.8"/><path d="M439.3,65.3 L439.7,66.1 L440.0,66.5 L440.4,65.7 L440.7,65.7 L441.1,66.0 L441.4,67.2 L441.8,69.3 L442.1,70.6" stroke-width="9.0"/><path d="M442.1,70.6 L442.4,70.5 L442.8,70.1 L443.1,71.8 L443.5,73.7 L443.8,73.2 L444.1,73.6 L444.5,75.0 L444.8,76.7" stroke-width="9.1"/><path d="M444.8,76.7 L445.1,76.6 L445.5,77.5 L445.8,78.6 L446.2,79.2 L446.5,78.9 L446.9,78.0 L447.2,79.1 L447.6,80.0" stroke-width="9.3"/><path d="M447.6,80.0 L447.9,82.0 L448.3,83.2 L448.6,83.0 L449.0,82.7 L449.4,82.9 L449.7,84.5 L450.1,85.5 L450.5,86.3" stroke-width="9.4"/><path d="M450.5,86.3 L450.9,88.1 L451.3,88.9 L451.6,89.1 L452.0,88.3 L452.4,88.7 L452.8,89.4 L453.2,90.8 L453.6,91.2" stroke-width="9.4"/><path d="M453.6,91.2 L454.0,92.1 L454.4,93.8 L454.8,94.9 L455.2,96.4 L455.6,95.4 L456.0,95.4 L456.4,97.6 L456.9,99.1" stroke-width="9.4"/><path d="M456.9,99.1 L457.3,99.9 L457.7,99.0 L458.1,100.5 L458.5,101.3 L458.9,101.8 L459.4,101.2 L459.8,102.7 L460.2,104.0" stroke-width="9.4"/><path d="M460.2,104.0 L460.7,104.9 L461.1,106.7 L461.5,106.4 L462.0,106.6 L462.4,106.5 L462.9,106.6 L463.3,107.6 L463.7,108.6" stroke-width="9.4"/><path d="M463.7,108.6 L464.2,110.0 L464.7,110.6 L465.1,110.8 L465.6,111.7 L466.0,112.0 L466.5,113.3 L467.0,113.3 L467.4,112.6" stroke-width="9.4"/><path d="M467.4,112.6 L467.9,113.7 L468.4,114.8 L468.8,115.7 L469.3,116.9 L469.8,117.6 L470.3,119.3 L470.8,119.3 L471.3,120.4" stroke-width="9.4"/><path d="M471.3,120.4 L471.7,120.9 L472.2,121.3 L472.7,122.3 L473.2,121.8 L473.7,123.5 L474.2,125.0 L474.7,124.2 L475.3,124.1" stroke-width="9.4"/><path d="M475.3,124.1 L475.8,125.0 L476.3,125.8 L476.8,126.7 L477.3,127.7 L477.8,129.2 L478.4,129.5 L478.9,129.6 L479.4,129.3" stroke-width="9.4"/><path d="M479.4,129.3 L479.9,130.4 L480.5,131.9 L481.0,132.2 L481.6,132.2 L482.1,133.3 L482.7,133.6 L483.2,133.2 L483.8,132.4" stroke-width="9.4"/><path d="M483.8,132.4 L484.3,133.9 L484.9,134.2 L485.4,136.3 L486.0,138.0 L486.6,137.1 L487.1,136.4 L487.7,137.8 L488.2,139.5" stroke-width="9.4"/><path d="M488.2,139.5 L488.8,139.8 L489.3,139.8 L489.9,139.6 L490.5,140.0 L491.0,141.4 L491.6,142.0 L492.1,143.2 L492.7,145.0" stroke-width="9.4"/><path d="M492.7,145.0 L493.2,144.5 L493.8,144.5 L494.3,145.6 L494.9,146.9 L495.5,147.5 L496.0,147.4 L496.6,147.5 L497.2,148.2" stroke-width="9.4"/><path d="M497.2,148.2 L497.8,149.2 L498.4,148.8 L499.1,149.1 L499.7,149.9 L500.3,149.8 L500.9,150.2 L501.6,151.4 L502.2,151.9" stroke-width="9.4"/><path d="M502.2,151.9 L502.8,153.2 L503.5,153.4 L504.1,155.1 L504.8,156.1 L505.4,155.4 L506.0,156.3 L506.7,156.2 L507.3,157.5" stroke-width="9.4"/><path d="M507.3,157.5 L508.0,158.0 L508.7,158.7 L509.3,159.4 L510.0,160.0 L510.6,159.9 L511.3,159.7 L512.0,160.0 L512.6,158.5" stroke-width="9.4"/><path d="M512.6,158.5 L513.3,160.0 L514.0,160.1 L514.6,161.1 L515.3,161.1 L516.0,162.2 L516.7,164.2 L517.3,163.9 L518.0,164.2" stroke-width="9.4"/><path d="M518.0,164.2 L518.7,164.1 L519.4,163.9 L520.1,164.5 L520.8,165.9 L521.5,166.2 L522.1,167.5 L522.8,167.3 L523.5,168.0" stroke-width="9.4"/><path d="M523.5,168.0 L524.2,167.7 L524.9,167.4 L525.6,168.0 L526.3,169.3 L527.0,170.3 L527.7,170.2 L528.4,169.5 L529.1,169.2" stroke-width="9.3"/><path d="M529.1,169.2 L529.9,169.2 L530.6,169.3 L531.3,171.0 L532.0,171.5 L532.7,171.4 L533.4,172.0 L534.2,172.4 L534.9,174.7" stroke-width="9.1"/><path d="M534.9,174.7 L535.6,174.0 L536.3,174.1 L537.0,175.3 L537.8,175.2 L538.5,175.3 L539.2,176.6 L540.0,175.6 L540.7,175.9" stroke-width="9.0"/><path d="M540.7,175.9 L541.4,175.6 L542.1,175.7 L542.9,176.8 L543.6,178.1 L544.4,178.1 L545.1,177.9 L545.8,178.6 L546.6,180.2" stroke-width="8.9"/><path d="M546.6,180.2 L547.3,180.2 L548.0,179.7 L548.8,179.8 L549.5,179.9 L550.3,180.7 L551.0,181.7 L551.8,181.0 L552.5,180.8" stroke-width="8.8"/><path d="M552.5,180.8 L553.2,180.5 L554.0,180.3 L554.7,181.7 L555.5,183.0 L556.3,182.8 L557.0,183.0 L557.8,182.6 L558.5,182.7" stroke-width="8.7"/><path d="M558.5,182.7 L559.3,183.4 L560.0,184.1 L560.8,185.4 L561.5,185.7 L562.3,185.1 L563.0,184.4 L563.8,185.5 L564.6,186.4" stroke-width="8.6"/><path d="M564.6,186.4 L565.3,186.4 L566.1,187.3 L566.9,186.3 L567.6,185.3 L568.4,187.1 L569.1,188.2 L569.9,187.7 L570.7,187.1" stroke-width="8.4"/><path d="M570.7,187.1 L571.4,187.0 L572.2,186.7 L573.0,188.1 L573.7,189.0 L574.5,188.6 L575.3,188.1 L576.0,188.3 L576.8,189.1" stroke-width="8.3"/><path d="M576.8,189.1 L577.6,189.1 L578.3,188.7 L579.1,188.9 L579.9,189.6 L580.7,190.1 L581.4,190.3 L582.2,191.5 L583.0,192.0" stroke-width="8.2"/><path d="M583.0,192.0 L583.7,191.3 L584.5,190.9 L585.3,192.1 L586.1,192.6 L586.8,191.8 L587.6,191.4 L588.4,192.2 L589.2,192.4" stroke-width="8.1"/><path d="M589.2,192.4 L589.9,192.9 L590.7,194.4 L591.5,194.6 L592.3,194.8 L593.1,195.6 L593.8,195.5 L594.6,195.3 L595.4,194.9" stroke-width="7.9"/><path d="M595.4,194.9 L596.2,195.2 L596.9,195.0 L597.7,194.8 L598.5,193.8 L599.3,195.1 L600.1,195.6 L600.8,195.5 L601.6,194.9" stroke-width="7.8"/><path d="M601.6,194.9 L602.4,196.0 L603.2,197.0 L604.0,197.3 L604.8,197.3 L605.5,197.6 L606.3,197.8 L607.1,197.9 L607.9,197.0" stroke-width="7.8"/><path d="M607.9,197.0 L608.7,198.2 L609.5,199.5 L610.2,199.3 L611.0,199.8 L611.8,199.6 L612.6,199.5 L613.4,199.9 L614.2,199.8" stroke-width="7.8"/><path d="M614.2,199.8 L615.0,199.5 L615.7,200.4 L616.5,199.9 L617.3,200.5 L618.1,200.7 L618.9,201.1 L619.7,200.9 L620.5,201.1" stroke-width="7.8"/><path d="M620.5,201.1 L621.2,201.1 L622.0,201.0 L622.8,200.2 L623.6,199.3 L624.4,200.7 L625.2,201.7 L626.0,201.5 L626.8,200.7" stroke-width="7.8"/><path d="M626.8,200.7 L627.5,200.7 L628.3,201.1 L629.1,201.7 L629.9,202.8 L630.7,203.2 L631.5,203.2 L632.3,203.2 L633.1,202.3" stroke-width="7.8"/><path d="M633.1,202.3 L633.9,202.6 L634.6,202.7 L635.4,202.9 L636.2,202.8 L637.0,203.1 L637.8,202.4 L638.6,203.0 L639.4,203.9" stroke-width="7.8"/><path d="M639.4,203.9 L640.2,203.4 L641.0,204.0 L641.8,203.4 L642.6,203.4 L643.3,204.2 L644.1,205.4 L644.9,205.0 L645.7,203.7" stroke-width="7.8"/><path d="M645.7,203.7 L646.5,203.8 L647.3,204.7 L648.1,204.3 L648.9,204.6 L649.7,204.2" stroke-width="7.8"/></g>
<g stroke="#33e01e" fill="none" stroke-linejoin="round" stroke-linecap="round"><path d="M380.0,228.4 L380.8,228.4 L381.6,228.4 L382.4,228.4 L383.2,228.4 L384.0,228.4 L384.8,228.4 L385.6,228.5 L386.4,228.5" stroke-width="2.2"/><path d="M386.4,228.5 L387.2,228.5 L388.0,228.5 L388.8,228.4 L389.6,228.4 L390.4,228.4 L391.2,228.4 L392.0,228.4 L392.8,228.3" stroke-width="2.2"/><path d="M392.8,228.3 L393.6,228.3 L394.3,227.8 L395.0,227.3 L395.6,226.5 L396.1,226.1 L396.5,225.6 L396.9,225.2 L397.3,224.5" stroke-width="2.2"/><path d="M397.3,224.5 L397.6,223.4 L397.9,222.6 L398.1,222.2 L398.4,221.3 L398.6,220.6 L398.8,219.9 L399.1,218.6 L399.3,217.8" stroke-width="2.2"/><path d="M399.3,217.8 L399.5,217.3 L399.7,216.8 L399.9,215.8 L400.1,215.0 L400.2,214.1 L400.4,213.5 L400.5,212.5 L400.6,211.8" stroke-width="2.2"/><path d="M400.6,211.8 L400.8,211.1 L400.9,210.8 L401.0,209.8 L401.1,208.6 L401.2,207.7 L401.3,206.7 L401.4,206.2 L401.5,205.8" stroke-width="2.2"/><path d="M401.5,205.8 L401.6,205.0 L401.7,204.4 L401.8,203.3 L401.9,202.1 L402.0,201.4 L402.1,200.8 L402.2,200.0 L402.3,199.2" stroke-width="2.2"/><path d="M402.3,199.2 L402.4,198.6 L402.5,198.3 L402.5,197.4 L402.6,196.7 L402.7,195.6 L402.8,194.6 L402.9,194.0 L403.0,193.3" stroke-width="2.2"/><path d="M403.0,193.3 L403.1,192.4 L403.2,191.8 L403.3,190.5 L403.4,189.7 L403.5,188.7 L403.6,187.8 L403.7,187.2 L403.8,186.7" stroke-width="2.2"/><path d="M403.8,186.7 L403.9,186.0 L404.0,185.0 L404.1,184.0 L404.2,183.4 L404.3,182.2 L404.4,181.7 L404.5,180.7 L404.6,180.1" stroke-width="2.2"/><path d="M404.6,180.1 L404.7,179.5 L404.8,178.6 L404.9,177.8 L405.0,176.8 L405.1,176.2 L405.3,175.3 L405.4,174.5 L405.5,173.7" stroke-width="2.2"/><path d="M405.5,173.7 L405.6,173.2 L405.7,172.7 L405.9,171.7 L406.0,170.8 L406.2,169.8 L406.3,168.9 L406.4,168.1 L406.6,167.4" stroke-width="2.2"/><path d="M406.6,167.4 L406.7,166.7 L406.9,166.0 L407.0,165.0 L407.1,164.1 L407.2,163.4 L407.3,162.4 L407.5,162.0 L407.6,161.5" stroke-width="2.2"/><path d="M407.6,161.5 L407.7,160.4 L407.8,159.2 L407.9,158.6 L408.0,158.1 L408.1,157.3 L408.2,156.4 L408.2,155.7 L408.3,155.1" stroke-width="2.2"/><path d="M408.3,155.1 L408.4,154.2 L408.5,153.5 L408.6,152.6 L408.7,152.0 L408.8,151.3 L408.9,150.2 L409.0,149.2 L409.0,148.5" stroke-width="2.2"/><path d="M409.0,148.5 L409.1,147.7 L409.2,147.2 L409.3,146.0 L409.4,145.1 L409.5,144.6 L409.6,143.9 L409.6,143.1 L409.7,142.2" stroke-width="2.2"/><path d="M409.7,142.2 L409.8,141.2 L409.9,140.6 L410.0,139.5 L410.1,138.5 L410.1,137.8 L410.2,137.3 L410.3,136.8 L410.4,136.3" stroke-width="2.2"/><path d="M410.4,136.3 L410.5,135.2 L410.5,134.1 L410.6,133.6 L410.7,132.9 L410.8,131.9 L410.9,131.4 L410.9,130.7 L411.0,129.8" stroke-width="2.2"/><path d="M411.0,129.8 L411.1,128.8 L411.2,127.8 L411.2,127.2 L411.3,126.2 L411.4,125.4 L411.5,124.1 L411.5,123.2 L411.6,122.7" stroke-width="2.2"/><path d="M411.6,122.7 L411.7,121.8 L411.7,121.0 L411.8,120.2 L411.9,119.6 L411.9,118.5 L412.0,117.9 L412.1,117.2 L412.1,116.1" stroke-width="2.2"/><path d="M412.1,116.1 L412.2,115.7 L412.3,115.3 L412.3,114.2 L412.4,113.3 L412.5,112.8 L412.5,112.6 L412.6,111.4 L412.7,110.7" stroke-width="2.2"/><path d="M412.7,110.7 L412.7,109.8 L412.8,108.8 L412.9,108.0 L412.9,107.3 L413.0,106.4 L413.1,105.1 L413.2,104.9 L413.2,104.4" stroke-width="2.2"/><path d="M413.2,104.4 L413.3,103.6 L413.4,102.7 L413.5,102.1 L413.5,100.9 L413.6,100.0 L413.7,99.0 L413.8,98.4 L413.9,98.0" stroke-width="2.2"/><path d="M413.9,98.0 L414.0,97.3 L414.1,96.5 L414.2,95.5 L414.3,94.6 L414.4,94.1 L414.5,93.4 L414.6,92.4 L414.7,91.5" stroke-width="2.2"/><path d="M414.7,91.5 L414.8,90.2 L414.9,89.6 L415.0,88.6 L415.1,88.1 L415.3,87.3 L415.4,86.1 L415.5,85.2 L415.6,84.6" stroke-width="2.2"/><path d="M415.6,84.6 L415.7,84.2 L415.9,83.7 L416.0,82.7 L416.1,82.3 L416.2,81.2 L416.3,80.8 L416.5,80.1 L416.6,78.9" stroke-width="2.1"/><path d="M416.6,78.9 L416.7,78.0 L416.8,77.1 L416.9,75.8 L417.1,74.7 L417.2,74.1 L417.3,73.6 L417.4,73.1 L417.6,72.7" stroke-width="2.0"/><path d="M417.6,72.7 L417.7,72.0 L417.8,71.1 L418.0,70.2 L418.1,69.1 L418.3,68.4 L418.4,67.3 L418.6,66.5 L418.7,65.3" stroke-width="2.0"/><path d="M418.7,65.3 L418.9,64.7 L419.0,64.1 L419.2,63.0 L419.4,62.1 L419.6,61.9 L419.8,61.7 L420.0,61.0 L420.3,60.1" stroke-width="1.9"/><path d="M420.3,60.1 L420.5,58.9 L420.8,57.9 L421.1,57.2 L421.4,56.4 L421.7,55.5 L422.1,54.7 L422.5,54.1 L422.9,53.5" stroke-width="1.8"/><path d="M422.9,53.5 L423.4,53.1 L423.9,52.7 L424.4,52.5 L425.0,51.6 L425.6,51.5 L426.3,50.7 L427.0,50.9 L427.7,50.4" stroke-width="1.6"/><path d="M427.7,50.4 L428.4,51.1 L429.0,51.2 L429.5,52.1 L430.0,52.6 L430.5,53.0 L430.9,53.1 L431.3,53.2 L431.8,53.6" stroke-width="1.5"/><path d="M431.8,53.6 L432.3,54.3 L432.7,54.4 L433.2,55.3 L433.7,56.0 L434.2,57.3 L434.7,58.5 L435.2,59.1 L435.7,59.0" stroke-width="1.4"/><path d="M435.7,59.0 L436.2,60.2 L436.8,60.8 L437.2,60.7 L437.7,61.1 L438.1,61.3 L438.5,62.5 L438.9,63.4 L439.3,64.6" stroke-width="1.7"/><path d="M439.3,64.6 L439.7,65.4 L440.1,66.1 L440.4,66.1 L440.8,66.4 L441.1,66.7 L441.5,67.5 L441.8,68.6 L442.1,70.1" stroke-width="1.9"/><path d="M442.1,70.1 L442.5,70.3 L442.8,70.6 L443.2,71.9 L443.5,72.9 L443.8,73.2 L444.2,73.1 L444.5,74.5 L444.9,75.6" stroke-width="2.1"/><path d="M444.9,75.6 L445.2,76.8 L445.5,77.2 L445.9,78.2 L446.2,78.9 L446.6,79.1 L446.9,79.2 L447.3,80.4 L447.6,81.5" stroke-width="2.3"/><path d="M447.6,81.5 L448.0,81.7 L448.3,81.8 L448.7,83.2 L449.1,83.9 L449.4,84.8 L449.8,85.5 L450.2,86.4 L450.6,88.0" stroke-width="2.5"/><path d="M450.6,88.0 L451.0,87.7 L451.3,87.5 L451.7,89.3 L452.1,90.4 L452.5,91.4 L452.9,91.9 L453.3,92.5 L453.7,93.5" stroke-width="2.7"/><path d="M453.7,93.5 L454.1,93.8 L454.5,93.9 L454.9,94.3 L455.3,94.6 L455.7,95.4 L456.1,96.4 L456.5,97.5 L457.0,98.9" stroke-width="2.9"/><path d="M457.0,98.9 L457.4,99.7 L457.8,100.3 L458.2,100.6 L458.6,101.4 L459.0,101.7 L459.5,102.3 L459.9,102.5 L460.3,103.0" stroke-width="3.0"/><path d="M460.3,103.0 L460.7,104.4 L461.2,105.8 L461.6,106.1 L462.0,107.3 L462.5,107.2 L462.9,107.0 L463.4,107.9 L463.8,108.3" stroke-width="3.0"/><path d="M463.8,108.3 L464.3,109.5 L464.7,110.9 L465.2,111.5 L465.6,112.3 L466.1,112.7 L466.5,112.6 L467.0,113.5 L467.5,113.9" stroke-width="3.1"/><path d="M467.5,113.9 L467.9,114.5 L468.4,115.6 L468.9,116.3 L469.3,117.0 L469.8,117.3 L470.3,117.8 L470.8,119.0 L471.3,120.1" stroke-width="3.1"/><path d="M471.3,120.1 L471.7,120.9 L472.2,120.7 L472.7,121.7 L473.2,122.6 L473.7,123.1 L474.2,122.6 L474.7,124.3 L475.2,125.6" stroke-width="3.2"/><path d="M475.2,125.6 L475.7,125.8 L476.2,126.5 L476.7,126.8 L477.3,127.0 L477.8,127.8 L478.3,129.5 L478.8,129.5 L479.3,130.2" stroke-width="3.2"/><path d="M479.3,130.2 L479.9,130.8 L480.4,131.2 L480.9,131.5 L481.5,131.3 L482.0,131.8 L482.6,132.5 L483.1,133.6 L483.7,134.6" stroke-width="3.2"/><path d="M483.7,134.6 L484.2,135.4 L484.8,135.1 L485.3,135.9 L485.9,136.5 L486.4,137.2 L487.0,137.6 L487.6,138.6 L488.1,140.2" stroke-width="3.1"/><path d="M488.1,140.2 L488.7,140.0 L489.2,140.2 L489.8,141.0 L490.3,141.9 L490.9,141.9 L491.4,141.7 L491.9,142.5 L492.5,143.8" stroke-width="3.1"/><path d="M492.5,143.8 L493.0,143.8 L493.6,144.0 L494.2,145.3 L494.7,146.5 L495.3,147.1 L495.9,147.1 L496.5,147.6 L497.0,147.3" stroke-width="3.0"/><path d="M497.0,147.3 L497.6,148.4 L498.3,148.4 L498.9,149.5 L499.5,150.4 L500.1,150.8 L500.7,150.8 L501.4,151.4 L502.0,152.4" stroke-width="3.0"/><path d="M502.0,152.4 L502.6,152.9 L503.3,153.8 L503.9,154.4 L504.5,154.6 L505.2,155.4 L505.8,155.6 L506.5,156.3 L507.1,157.0" stroke-width="2.9"/><path d="M507.1,157.0 L507.8,157.2 L508.4,157.1 L509.1,157.8 L509.7,158.9 L510.4,158.9 L511.1,158.9 L511.7,159.3 L512.4,160.2" stroke-width="2.8"/><path d="M512.4,160.2 L513.1,161.0 L513.7,161.7 L514.4,161.5 L515.1,161.7 L515.7,162.4 L516.4,162.7 L517.1,162.9 L517.8,163.7" stroke-width="2.8"/><path d="M517.8,163.7 L518.5,164.0 L519.1,164.9 L519.8,164.8 L520.5,164.5 L521.2,165.3 L521.9,165.7 L522.6,166.8 L523.3,167.5" stroke-width="2.7"/><path d="M523.3,167.5 L523.9,167.4 L524.6,167.7 L525.3,168.4 L526.0,169.5 L526.7,170.0 L527.4,170.5 L528.2,170.4 L528.9,171.0" stroke-width="2.6"/><path d="M528.9,171.0 L529.6,171.3 L530.3,172.0 L531.0,171.6 L531.7,172.2 L532.4,172.4 L533.1,172.2 L533.9,172.7 L534.6,173.9" stroke-width="2.6"/><path d="M534.6,173.9 L535.3,173.9 L536.0,174.1 L536.7,174.9 L537.5,175.6 L538.2,175.0 L538.9,175.3 L539.7,175.7 L540.4,176.3" stroke-width="2.5"/><path d="M540.4,176.3 L541.1,176.7 L541.9,177.8 L542.6,177.8 L543.3,177.6 L544.1,178.2 L544.8,178.5 L545.5,179.3 L546.3,180.1" stroke-width="2.5"/><path d="M546.3,180.1 L547.0,179.5 L547.8,179.7 L548.5,179.7 L549.2,179.6 L550.0,180.9 L550.7,181.6 L551.5,181.8 L552.2,181.6" stroke-width="2.5"/><path d="M552.2,181.6 L553.0,182.3 L553.7,182.4 L554.5,182.5 L555.2,181.9 L556.0,182.6 L556.8,183.1 L557.5,183.0 L558.3,183.1" stroke-width="2.5"/><path d="M558.3,183.1 L559.0,183.8 L559.8,184.1 L560.5,184.7 L561.3,185.8 L562.1,185.4 L562.8,185.2 L563.6,185.3 L564.3,185.7" stroke-width="2.5"/><path d="M564.3,185.7 L565.1,187.0 L565.9,187.4 L566.6,188.1 L567.4,188.4 L568.2,188.1 L568.9,187.8 L569.7,188.2 L570.4,188.6" stroke-width="2.5"/><path d="M570.4,188.6 L571.2,188.6 L572.0,189.0 L572.7,189.1 L573.5,189.1 L574.3,190.1 L575.1,190.7 L575.8,189.9 L576.6,189.7" stroke-width="2.5"/><path d="M576.6,189.7 L577.4,190.7 L578.1,191.3 L578.9,190.8 L579.7,190.6 L580.5,191.3 L581.2,192.3 L582.0,192.5 L582.8,192.3" stroke-width="2.5"/><path d="M582.8,192.3 L583.6,192.5 L584.3,192.3 L585.1,192.9 L585.9,193.1 L586.7,193.4 L587.4,193.2 L588.2,194.1 L589.0,194.1" stroke-width="2.5"/><path d="M589.0,194.1 L589.8,194.0 L590.5,193.7 L591.3,194.3 L592.1,194.6 L592.9,195.2 L593.7,195.5 L594.4,196.1 L595.2,196.3" stroke-width="2.5"/><path d="M595.2,196.3 L596.0,195.7 L596.8,195.3 L597.6,195.8 L598.3,195.8 L599.1,196.3 L599.9,197.0 L600.7,197.1 L601.5,196.7" stroke-width="2.5"/><path d="M601.5,196.7 L602.2,196.6 L603.0,196.5 L603.8,197.0 L604.6,198.2 L605.4,197.9 L606.2,197.8 L607.0,198.3 L607.7,198.6" stroke-width="2.5"/><path d="M607.7,198.6 L608.5,199.0 L609.3,198.9 L610.1,198.6 L610.9,198.8 L611.7,199.1 L612.5,199.5 L613.2,199.3 L614.0,199.6" stroke-width="2.5"/><path d="M614.0,199.6 L614.8,200.0 L615.6,200.7 L616.4,200.9 L617.2,200.7 L618.0,200.8 L618.7,201.1 L619.5,201.5 L620.3,201.6" stroke-width="2.5"/><path d="M620.3,201.6 L621.1,201.1 L621.9,200.7 L622.7,201.7 L623.5,202.2 L624.3,202.3 L625.0,202.4 L625.8,202.7 L626.6,202.5" stroke-width="2.5"/><path d="M626.6,202.5 L627.4,202.4 L628.2,202.5 L629.0,202.4 L629.8,202.4 L630.6,202.9 L631.4,203.8 L632.2,203.4 L632.9,203.0" stroke-width="2.5"/><path d="M632.9,203.0 L633.7,203.5 L634.5,203.7 L635.3,203.3 L636.1,203.5 L636.9,203.7 L637.7,203.6 L638.5,203.9 L639.3,204.9" stroke-width="2.5"/><path d="M639.3,204.9 L640.1,204.9 L640.9,205.0 L641.7,205.1 L642.4,205.5 L643.2,205.4 L644.0,205.8 L644.8,206.3 L645.6,206.6" stroke-width="2.5"/><path d="M645.6,206.6 L646.4,205.9 L647.2,205.1 L648.0,205.7 L648.8,206.2 L649.6,206.2" stroke-width="2.5"/></g>
<g stroke="#ee1b14" fill="none" stroke-linejoin="round" stroke-linecap="round"><path d="M380.0,228.4 L380.8,228.4 L381.6,228.4 L382.4,228.4 L383.2,228.5 L384.0,228.5 L384.8,228.4 L385.6,228.5 L386.4,228.5" stroke-width="2.8"/><path d="M386.4,228.5 L387.2,228.4 L388.0,228.4 L388.8,228.5 L389.6,228.5 L390.4,228.4 L391.2,228.3 L392.0,228.3 L392.8,228.3" stroke-width="2.8"/><path d="M392.8,228.3 L393.6,228.2 L394.3,228.0 L395.0,227.6 L395.6,227.2 L396.2,226.5 L396.7,225.6 L397.1,225.1 L397.4,225.0" stroke-width="2.9"/><path d="M397.4,225.0 L397.8,224.3 L398.1,223.6 L398.3,222.4 L398.6,220.8 L398.8,220.6 L399.1,219.9 L399.3,218.7 L399.6,217.7" stroke-width="3.1"/><path d="M399.6,217.7 L399.8,217.3 L400.0,216.6 L400.2,215.4 L400.4,214.5 L400.6,214.3 L400.7,214.3 L400.9,213.3 L401.0,212.0" stroke-width="3.2"/><path d="M401.0,212.0 L401.1,211.4 L401.3,211.2 L401.4,210.0 L401.5,209.1 L401.6,208.6 L401.7,207.7 L401.8,206.5 L401.9,205.0" stroke-width="3.2"/><path d="M401.9,205.0 L402.0,204.4 L402.1,203.6 L402.2,203.3 L402.3,202.4 L402.4,201.6 L402.5,200.5 L402.6,200.1 L402.7,199.8" stroke-width="3.3"/><path d="M402.7,199.8 L402.8,198.6 L402.9,197.7 L403.0,196.9 L403.1,196.3 L403.2,195.9 L403.3,195.1 L403.4,194.2 L403.5,193.1" stroke-width="3.3"/><path d="M403.5,193.1 L403.6,191.9 L403.7,191.0 L403.8,190.2 L403.9,189.3 L404.0,188.8 L404.1,188.5 L404.2,187.6 L404.3,186.7" stroke-width="3.4"/><path d="M404.3,186.7 L404.4,185.9 L404.5,185.4 L404.6,184.5 L404.7,183.2 L404.8,182.6 L404.9,182.2 L405.1,181.0 L405.2,179.9" stroke-width="3.4"/><path d="M405.2,179.9 L405.3,179.4 L405.4,179.0 L405.5,178.2 L405.6,177.6 L405.7,176.4 L405.9,175.1 L406.0,174.7 L406.1,174.0" stroke-width="3.5"/><path d="M406.1,174.0 L406.2,173.3 L406.4,172.5 L406.5,171.9 L406.7,171.3 L406.8,170.2 L407.0,168.8 L407.1,168.2 L407.3,167.5" stroke-width="3.5"/><path d="M407.3,167.5 L407.4,166.8 L407.6,166.6 L407.7,165.7 L407.8,165.0 L408.0,163.7 L408.1,162.7 L408.2,162.2 L408.3,161.8" stroke-width="3.6"/><path d="M408.3,161.8 L408.4,160.5 L408.5,159.2 L408.6,158.8 L408.7,158.0 L408.8,157.0 L408.9,155.9 L409.0,156.0 L409.1,155.7" stroke-width="3.6"/><path d="M409.1,155.7 L409.2,154.5 L409.3,153.2 L409.4,153.0 L409.5,152.3 L409.6,151.4 L409.7,150.0 L409.8,149.8 L409.9,149.4" stroke-width="3.6"/><path d="M409.9,149.4 L410.0,147.9 L410.0,146.7 L410.1,146.2 L410.2,145.0 L410.3,144.6 L410.4,143.8 L410.5,143.7 L410.6,143.0" stroke-width="3.7"/><path d="M410.6,143.0 L410.7,141.9 L410.8,141.5 L410.8,140.4 L410.9,139.0 L411.0,137.9 L411.1,136.9 L411.2,136.6 L411.3,136.0" stroke-width="3.7"/><path d="M411.3,136.0 L411.4,134.8 L411.4,133.9 L411.5,133.7 L411.6,133.1 L411.7,132.3 L411.8,131.7 L411.9,130.8 L411.9,129.6" stroke-width="3.7"/><path d="M411.9,129.6 L412.0,129.0 L412.1,128.0 L412.2,127.0 L412.3,125.8 L412.3,125.5 L412.4,124.7 L412.5,123.9 L412.6,122.6" stroke-width="3.8"/><path d="M412.6,122.6 L412.6,122.0 L412.7,121.5 L412.8,120.9 L412.8,120.0 L412.9,119.3 L413.0,118.7 L413.1,117.3 L413.1,116.0" stroke-width="3.8"/><path d="M413.1,116.0 L413.2,115.6 L413.3,114.5 L413.3,114.2 L413.4,113.9 L413.5,112.8 L413.5,111.9 L413.6,111.5 L413.7,110.8" stroke-width="3.8"/><path d="M413.7,110.8 L413.8,109.9 L413.8,109.4 L413.9,108.5 L414.0,107.3 L414.0,106.7 L414.1,106.4 L414.2,105.3 L414.3,104.1" stroke-width="3.8"/><path d="M414.3,104.1 L414.4,103.5 L414.4,103.4 L414.5,102.4 L414.6,101.3 L414.7,100.1 L414.8,98.4 L414.9,98.1 L415.0,97.7" stroke-width="3.9"/><path d="M415.0,97.7 L415.1,97.0 L415.2,96.6 L415.3,95.8 L415.4,94.4 L415.5,93.3 L415.6,92.5 L415.7,91.7 L415.8,91.2" stroke-width="3.9"/><path d="M415.8,91.2 L415.9,90.6 L416.0,89.8 L416.2,89.2 L416.3,88.5 L416.4,87.7 L416.5,86.4 L416.7,85.7 L416.8,84.9" stroke-width="4.0"/><path d="M416.8,84.9 L416.9,84.2 L417.1,83.5 L417.2,82.8 L417.3,81.7 L417.4,81.3 L417.6,81.1 L417.7,80.4 L417.8,79.3" stroke-width="4.0"/><path d="M417.8,79.3 L417.9,78.4 L418.1,77.4 L418.2,75.9 L418.3,74.6 L418.4,74.6 L418.6,74.2 L418.7,73.6 L418.9,72.9" stroke-width="4.0"/><path d="M418.9,72.9 L419.0,72.1 L419.1,71.2 L419.3,70.5 L419.4,68.9 L419.6,67.7 L419.7,66.9 L419.9,66.9 L420.1,66.7" stroke-width="4.1"/><path d="M420.1,66.7 L420.2,64.9 L420.4,63.7 L420.6,64.0 L420.7,63.8 L420.9,63.1 L421.0,62.3 L421.2,61.2 L421.3,60.0" stroke-width="4.2"/><path d="M421.3,60.0 L421.5,59.2 L421.6,59.1 L421.8,57.5 L422.0,55.9 L422.2,56.5 L422.4,56.5 L422.7,55.0 L422.9,53.5" stroke-width="4.2"/><path d="M422.9,53.5 L423.2,53.1 L423.6,53.1 L424.0,52.4 L424.5,51.4 L425.1,51.1 L425.8,50.6 L426.6,50.2 L427.6,50.0" stroke-width="4.4"/><path d="M427.6,50.0 L428.6,48.4 L429.7,47.1 L430.7,47.3 L431.7,48.0 L432.7,48.6 L433.6,49.7 L434.3,50.4 L434.9,50.6" stroke-width="4.2"/><path d="M434.9,50.6 L435.5,51.3 L436.0,52.8 L436.5,53.9 L437.0,54.4 L437.5,54.9 L438.0,55.6 L438.5,56.2 L439.0,56.3" stroke-width="4.1"/><path d="M439.0,56.3 L439.5,57.1 L440.1,57.3 L440.6,58.7 L441.2,59.7 L441.6,60.7 L442.1,60.7 L442.6,60.6 L443.0,61.0" stroke-width="4.0"/><path d="M443.0,61.0 L443.4,61.6 L443.8,62.5 L444.2,64.0 L444.6,65.5 L444.9,65.9 L445.3,65.4 L445.7,66.3 L446.0,67.2" stroke-width="3.9"/><path d="M446.0,67.2 L446.4,69.2 L446.7,70.0 L447.1,70.0 L447.4,70.4 L447.7,71.5 L448.1,73.2 L448.4,73.5 L448.8,74.3" stroke-width="3.8"/><path d="M448.8,74.3 L449.1,74.4 L449.4,75.6 L449.8,75.0 L450.1,75.3 L450.5,76.4 L450.8,78.1 L451.2,78.6 L451.5,80.2" stroke-width="3.7"/><path d="M451.5,80.2 L451.9,81.2 L452.2,82.0 L452.6,81.4 L452.9,81.2 L453.3,81.4 L453.7,82.1 L454.0,84.0 L454.4,85.4" stroke-width="3.6"/><path d="M454.4,85.4 L454.8,86.0 L455.2,86.8 L455.5,86.9 L455.9,87.0 L456.3,88.5 L456.7,89.7 L457.1,90.5 L457.5,91.4" stroke-width="3.6"/><path d="M457.5,91.4 L457.9,91.4 L458.3,92.1 L458.7,92.2 L459.1,92.7 L459.5,93.6 L459.9,94.7 L460.3,94.5 L460.7,95.2" stroke-width="3.6"/><path d="M460.7,95.2 L461.1,96.7 L461.5,98.1 L462.0,98.0 L462.4,98.6 L462.8,98.7 L463.2,99.8 L463.6,101.4 L464.0,102.3" stroke-width="3.6"/><path d="M464.0,102.3 L464.5,102.8 L464.9,104.1 L465.3,104.0 L465.7,104.9 L466.2,105.4 L466.6,105.7 L467.0,105.9 L467.5,105.0" stroke-width="3.6"/><path d="M467.5,105.0 L467.9,105.9 L468.4,106.8 L468.8,108.2 L469.3,109.0 L469.7,110.4 L470.2,111.6 L470.6,111.7 L471.1,112.8" stroke-width="3.6"/><path d="M471.1,112.8 L471.5,113.0 L472.0,113.0 L472.5,114.6 L472.9,115.2 L473.4,115.3 L473.9,114.7 L474.4,115.7 L474.8,116.1" stroke-width="3.6"/><path d="M474.8,116.1 L475.3,117.2 L475.8,117.5 L476.3,118.2 L476.8,118.8 L477.2,119.6 L477.7,119.9 L478.2,120.0 L478.7,121.0" stroke-width="3.6"/><path d="M478.7,121.0 L479.2,122.0 L479.7,123.0 L480.2,122.9 L480.7,123.3 L481.2,124.0 L481.7,125.4 L482.3,126.6 L482.8,127.7" stroke-width="3.6"/><path d="M482.8,127.7 L483.3,127.6 L483.8,127.8 L484.3,128.8 L484.9,129.4 L485.4,130.1 L485.9,130.5 L486.5,131.6 L487.0,132.5" stroke-width="3.6"/><path d="M487.0,132.5 L487.5,132.4 L488.1,133.4 L488.6,133.5 L489.2,134.3 L489.7,134.4 L490.3,134.5 L490.9,136.0 L491.4,136.6" stroke-width="3.7"/><path d="M491.4,136.6 L492.0,136.2 L492.5,136.3 L493.1,137.1 L493.7,138.1 L494.2,138.7 L494.8,140.2 L495.3,139.7 L495.9,139.8" stroke-width="3.8"/><path d="M495.9,139.8 L496.4,141.1 L496.9,142.3 L497.5,142.8 L498.0,143.9 L498.6,143.8 L499.1,142.9 L499.7,143.3 L500.2,144.1" stroke-width="3.9"/><path d="M500.2,144.1 L500.8,144.3 L501.4,145.0 L502.0,146.5 L502.5,148.0 L503.1,148.2 L503.7,147.4 L504.3,148.3 L504.9,148.6" stroke-width="3.9"/><path d="M504.9,148.6 L505.6,149.2 L506.2,149.2 L506.8,149.9 L507.4,149.7 L508.0,151.0 L508.7,151.5 L509.3,152.2 L509.9,152.1" stroke-width="4.0"/><path d="M509.9,152.1 L510.6,152.8 L511.2,154.1 L511.9,153.5 L512.5,154.1 L513.1,155.0 L513.8,155.6 L514.4,156.6 L515.1,157.8" stroke-width="4.1"/><path d="M515.1,157.8 L515.7,157.4 L516.4,156.6 L517.0,157.8 L517.7,159.8 L518.4,158.6 L519.0,158.1 L519.7,158.9 L520.4,159.9" stroke-width="4.2"/><path d="M520.4,159.9 L521.0,160.7 L521.7,160.8 L522.4,161.6 L523.0,162.6 L523.7,162.8 L524.4,163.9 L525.1,163.7 L525.7,163.4" stroke-width="4.3"/><path d="M525.7,163.4 L526.4,163.6 L527.1,164.6 L527.8,165.7 L528.5,166.1 L529.1,166.0 L529.8,166.1 L530.5,166.6 L531.2,167.1" stroke-width="4.4"/><path d="M531.2,167.1 L531.9,167.9 L532.6,168.4 L533.3,167.8 L534.0,167.9 L534.7,168.3 L535.4,168.6 L536.1,168.7 L536.8,168.7" stroke-width="4.5"/><path d="M536.8,168.7 L537.5,169.2 L538.2,169.7 L538.9,170.3 L539.6,171.4 L540.3,171.7 L541.1,171.7 L541.8,171.4 L542.5,171.2" stroke-width="4.6"/><path d="M542.5,171.2 L543.2,171.8 L543.9,171.4 L544.7,172.1 L545.4,172.8 L546.1,172.8 L546.8,172.6 L547.6,173.2 L548.3,173.7" stroke-width="4.6"/><path d="M548.3,173.7 L549.0,174.5 L549.7,174.7 L550.5,175.0 L551.2,174.4 L551.9,175.9 L552.6,177.7 L553.4,177.5 L554.1,176.7" stroke-width="4.6"/><path d="M554.1,176.7 L554.8,177.1 L555.6,177.4 L556.3,178.4 L557.1,178.2 L557.8,178.6 L558.5,177.7 L559.3,178.5 L560.0,178.5" stroke-width="4.6"/><path d="M560.0,178.5 L560.8,178.6 L561.5,178.9 L562.2,180.5 L563.0,182.0 L563.7,180.6 L564.5,180.1 L565.2,180.6 L566.0,180.9" stroke-width="4.6"/><path d="M566.0,180.9 L566.7,181.8 L567.5,182.6 L568.2,182.5 L569.0,182.6 L569.7,182.5 L570.5,182.2 L571.3,183.1 L572.0,184.7" stroke-width="4.6"/><path d="M572.0,184.7 L572.8,184.4 L573.5,183.5 L574.3,183.8 L575.0,184.0 L575.8,184.2 L576.5,184.7 L577.3,184.8 L578.1,185.6" stroke-width="4.6"/><path d="M578.1,185.6 L578.8,185.1 L579.6,185.0 L580.3,185.4 L581.1,186.9 L581.9,186.9 L582.6,187.2 L583.4,187.2 L584.2,186.8" stroke-width="4.6"/><path d="M584.2,186.8 L584.9,187.0 L585.7,187.3 L586.4,187.3 L587.2,187.1 L588.0,187.1 L588.7,187.4 L589.5,188.1 L590.3,189.5" stroke-width="4.6"/><path d="M590.3,189.5 L591.1,188.9 L591.8,189.3 L592.6,189.7 L593.4,190.9 L594.1,190.0 L594.9,189.7 L595.7,190.2 L596.4,190.8" stroke-width="4.6"/><path d="M596.4,190.8 L597.2,191.0 L598.0,191.4 L598.8,190.7 L599.5,190.5 L600.3,190.7 L601.1,191.6 L601.9,192.1 L602.6,192.5" stroke-width="4.6"/><path d="M602.6,192.5 L603.4,191.9 L604.2,191.6 L605.0,191.8 L605.7,192.6 L606.5,193.0 L607.3,193.5 L608.1,193.2 L608.8,193.6" stroke-width="4.6"/><path d="M608.8,193.6 L609.6,193.7 L610.4,194.5 L611.2,194.8 L611.9,194.6 L612.7,195.3 L613.5,195.1 L614.3,194.7 L615.1,194.7" stroke-width="4.6"/><path d="M615.1,194.7 L615.8,194.7 L616.6,193.9 L617.4,195.0 L618.2,195.7 L619.0,196.0 L619.7,195.4 L620.5,195.5 L621.3,196.4" stroke-width="4.6"/><path d="M621.3,196.4 L622.1,196.3 L622.9,196.7 L623.7,197.2 L624.4,197.5 L625.2,197.8 L626.0,197.9 L626.8,197.1 L627.6,196.4" stroke-width="4.6"/><path d="M627.6,196.4 L628.3,197.4 L629.1,198.6 L629.9,198.0 L630.7,198.1 L631.5,197.6 L632.3,197.7 L633.0,198.7 L633.8,199.3" stroke-width="4.6"/><path d="M633.8,199.3 L634.6,198.9 L635.4,198.6 L636.2,199.1 L637.0,198.9 L637.8,199.0 L638.5,199.2 L639.3,198.9 L640.1,198.9" stroke-width="4.6"/><path d="M640.1,198.9 L640.9,199.2 L641.7,199.4 L642.5,199.6 L643.3,199.5 L644.1,199.4 L644.8,199.3 L645.6,200.4 L646.4,201.1" stroke-width="4.6"/><path d="M646.4,201.1 L647.2,200.8 L648.0,200.5 L648.8,200.7 L649.6,201.2 L650.4,201.8" stroke-width="4.6"/></g>
</g>
<rect x="380" y="28.2" width="269.6" height="218.3" fill="none" stroke="#000" stroke-width="1.7"/>
<text x="396.0" y="263.2" text-anchor="middle" class="tkb">6</text>
<text x="459.4" y="263.2" text-anchor="middle" class="tkb">8</text>
<text x="522.8" y="263.2" text-anchor="middle" class="tkb">10</text>
<text x="586.2" y="263.2" text-anchor="middle" class="tkb">12</text>
<text x="649.6" y="263.2" text-anchor="middle" class="tkb">14</text>
<text x="372.6" y="231.6" text-anchor="end" class="tkb">0.0</text>
<text x="372.6" y="195.1" text-anchor="end" class="tkb">0.2</text>
<text x="372.6" y="158.6" text-anchor="end" class="tkb">0.4</text>
<text x="372.6" y="122.0" text-anchor="end" class="tkb">0.6</text>
<text x="372.6" y="85.5" text-anchor="end" class="tkb">0.8</text>
<text x="372.6" y="49.0" text-anchor="end" class="tkb">1.0</text>
<path d="M396.0,246.5 V251.3 M459.4,246.5 V251.3 M522.8,246.5 V251.3 M586.2,246.5 V251.3 M649.6,246.5 V251.3 M427.7,246.5 V249.3 M491.1,246.5 V249.3 M554.5,246.5 V249.3 M617.9,246.5 V249.3 M380,228.2 H375.5 M380,191.7 H375.5 M380,155.2 H375.5 M380,118.6 H375.5 M380,82.1 H375.5 M380,45.6 H375.5" stroke="#000" stroke-width="1.3" fill="none"/>
<rect x="480.2" y="28.4" width="166.3" height="58.8" fill="#fff" stroke="#c8c8c8" stroke-width="1"/>
<path d="M480.5,37.4 H505" stroke="#2ee01e" stroke-width="2.2"/>
<text x="506.7" y="41.4" style="font-size:11.75px;white-space:pre" xml:space="preserve"><tspan style="fill:#2ee01e;stroke:#2ee01e;stroke-width:0.25px">NiFe LDH</tspan> <tspan style="stroke:#000;stroke-width:0.15px">(τ = 5.5  ns)</tspan></text>
<path d="M480.5,52.6 H505" stroke="#7b1a1a" stroke-width="2.2"/>
<text x="507.4" y="56.6" style="font-size:11.75px;white-space:pre" xml:space="preserve"><tspan style="fill:#7b1a1a;stroke:#7b1a1a;stroke-width:0.25px"> CN</tspan> <tspan style="stroke:#000;stroke-width:0.15px">(τ = 5.1  ns)</tspan></text>
<path d="M480.5,67.8 H505" stroke="#000000" stroke-width="2.2"/>
<text x="507.4" y="71.8" style="font-size:11.75px;white-space:pre" xml:space="preserve"><tspan style="fill:#000;stroke:#000;stroke-width:0.25px">CNLDH</tspan> <tspan style="stroke:#000;stroke-width:0.15px">(τ = 8.6  ns)</tspan></text>
<path d="M480.5,83.0 H505" stroke="#e8201a" stroke-width="2.2"/>
<text x="506.7" y="87.0" style="font-size:11.75px;white-space:pre" xml:space="preserve"><tspan style="fill:#e8201a;stroke:#e8201a;stroke-width:0.25px">CNNG3LDH</tspan> <tspan style="stroke:#000;stroke-width:0.15px">(τ = 16.52 ns)</tspan></text>
<text x="516.6" y="273.6" text-anchor="middle" style="font-size:12.4px">Time (ns)</text>
<text transform="translate(347.3,143.4) rotate(-90)" text-anchor="middle" style="font-size:13px">Intensity (Normalized)</text>
</svg>
</body></html>
